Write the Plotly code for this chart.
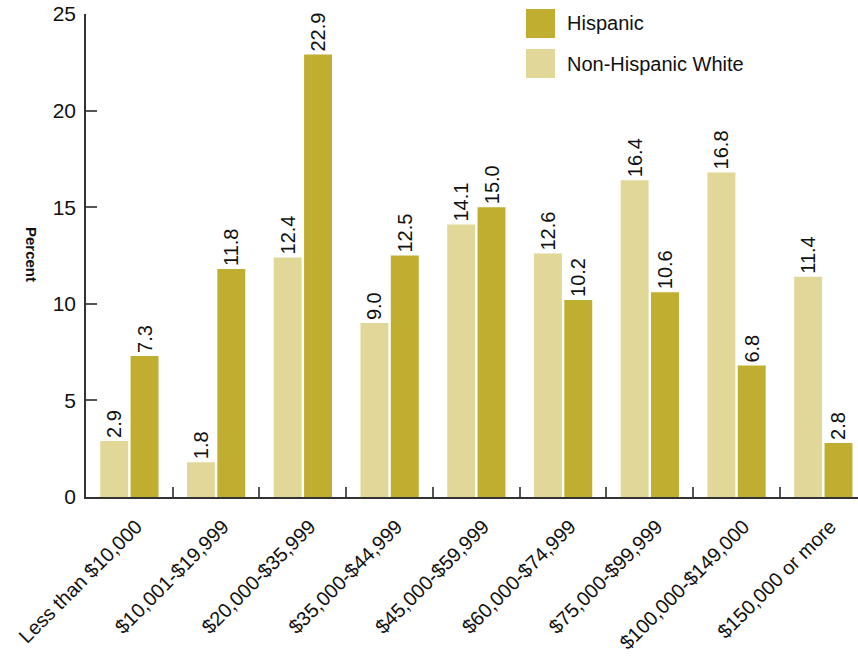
import plotly.graph_objects as go

categories = ["Less than $10,000", "$10,001-$19,999", "$20,000-$35,999", "$35,000-$44,999",
              "$45,000-$59,999", "$60,000-$74,999", "$75,000-$99,999", "$100,000-$149,000",
              "$150,000 or more"]
non_hispanic_white = [2.9, 1.8, 12.4, 9.0, 14.1, 12.6, 16.4, 16.8, 11.4]
hispanic = [7.3, 11.8, 22.9, 12.5, 15.0, 10.2, 10.6, 6.8, 2.8]
y_ticks = [0, 5, 10, 15, 20, 25]

DARK = "rgb(192,174,48)"
LIGHT = "rgb(224,215,152)"
FONT = "Liberation Sans, Arial, sans-serif"

L, R, T, B = 86, 0, 14, 160
W, H = 858, 657
pw = W - L - R
ph = H - T - B

fig = go.Figure()
for name, vals, col in [("Non-Hispanic White", non_hispanic_white, LIGHT), ("Hispanic", hispanic, DARK)]:
    fig.add_trace(go.Bar(x=categories, y=vals, name=name,
                         marker=dict(color=col, line=dict(width=0)),
                         text=[f"{v:.1f}" for v in vals], textposition="outside",
                         textangle=-90, constraintext="none",
                         textfont=dict(size=20, color="#111", family=FONT),
                         cliponaxis=False, hoverinfo="skip"))

def px_x(x):
    return (x - L) / pw

def px_y(y):
    return (H - B - y) / ph

shapes = [
    dict(type="rect", xref="paper", yref="paper", x0=px_x(526), x1=px_x(555), y0=px_y(38), y1=px_y(9),
         fillcolor=DARK, line=dict(width=0)),
    dict(type="rect", xref="paper", yref="paper", x0=px_x(526), x1=px_x(555), y0=px_y(78), y1=px_y(49),
         fillcolor=LIGHT, line=dict(width=0)),
]
annotations = [
    dict(text="Hispanic", xref="paper", yref="paper", x=px_x(565), y=px_y(23.5), xanchor="left",
         yanchor="middle", showarrow=False, font=dict(size=20, color="#111", family=FONT)),
    dict(text="Non-Hispanic White", xref="paper", yref="paper", x=px_x(565), y=px_y(64.5), xanchor="left",
         yanchor="middle", showarrow=False, font=dict(size=20, color="#111", family=FONT)),
    dict(text="<b>Percent</b>", xref="paper", yref="paper", x=px_x(32), y=px_y(254), xanchor="center",
         yanchor="middle", textangle=90, showarrow=False, font=dict(size=15, color="#111", family=FONT)),
]

fig.update_layout(
    width=W, height=H,
    margin=dict(l=L, r=R, t=T, b=B, pad=0, autoexpand=False),
    plot_bgcolor="white", paper_bgcolor="white",
    barmode="group", bargap=0.3, bargroupgap=0.08,
    showlegend=False,
    uniformtext=dict(minsize=20, mode="show"),
    font=dict(family=FONT, color="#111"),
    shapes=shapes, annotations=annotations,
    xaxis=dict(range=[-0.5, 8.4], showline=True, linecolor="#333", linewidth=2,
               ticks="inside", tickson="boundaries", ticklen=10, tickcolor="#555", tickwidth=1.5,
               tickangle=-45, tickfont=dict(size=20, color="#111", family=FONT),
               ticklabelstandoff=8, ticklabelshift=7,
               showgrid=False, zeroline=False, automargin=False),
    yaxis=dict(range=[0, 25], tickvals=y_ticks, showline=True, linecolor="#333", linewidth=1.5,
               ticks="inside", ticklen=11, tickcolor="#555", tickwidth=1.5,
               ticklabelstandoff=4,
               tickfont=dict(size=21, color="#111", family=FONT),
               showgrid=False, zeroline=False, automargin=False),
)

fig.write_html("out.html", config={"displayModeBar": False},
               post_script="document.body.style.margin='0';document.body.style.padding='0';")
